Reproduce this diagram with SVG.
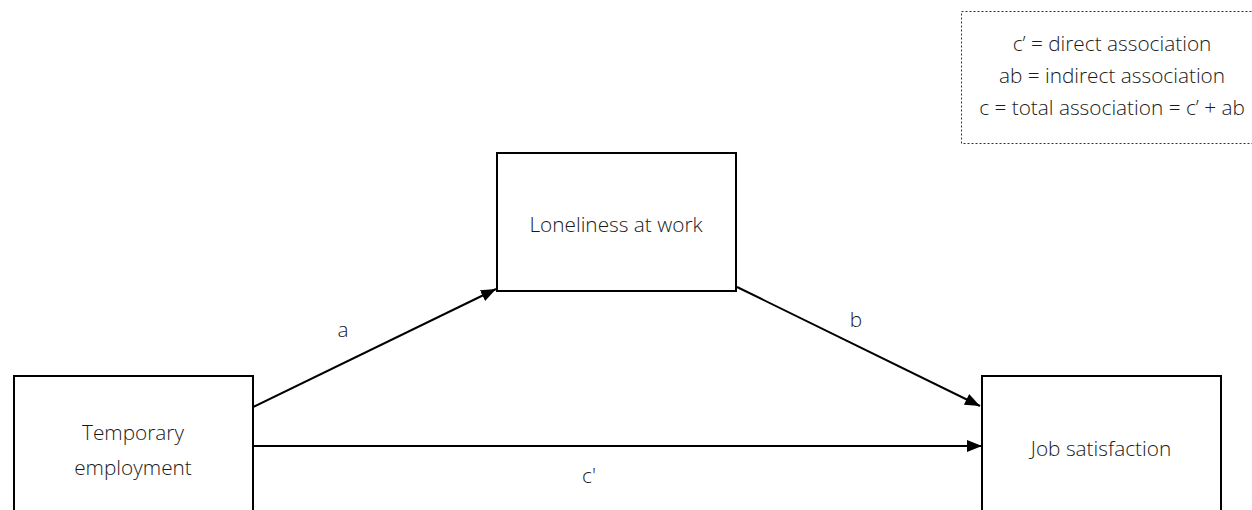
<svg xmlns="http://www.w3.org/2000/svg" width="1252" height="510" viewBox="0 0 1252 510">
<style>
.box{fill:#fff;stroke:#000;stroke-width:2}
.lbl{font-family:"Open Sans","Liberation Sans",sans-serif;font-weight:300;font-size:20.8px;fill:#1a1a1a;text-anchor:middle}
.edge{stroke:#000;stroke-width:2;fill:none;marker-end:url(#ah)}
.leg{fill:none;stroke:#333;stroke-width:1;stroke-dasharray:2 2}
</style>
<defs>
<marker id="ah" markerWidth="16" markerHeight="14" refX="15" refY="6" orient="auto" markerUnits="userSpaceOnUse" viewBox="0 0 16 12">
<path d="M0,0 L15,6 L0,12 Z" fill="#000"/>
</marker>
</defs>
<g id="legend">
<rect class="leg" x="961.500" y="11.500" width="300" height="132"/>
<text class="lbl" x="1112" y="51">c’ = direct association</text>
<text class="lbl" x="1112" y="83">ab = indirect association</text>
<text class="lbl" x="1112" y="115">c = total association = c’ + ab</text>
</g>
<g id="connectors">
<line class="edge" x1="253" y1="407" x2="496" y2="289"/>
<line class="edge" x1="737" y1="287" x2="980" y2="406"/>
<line class="edge" x1="253" y1="446" x2="982" y2="446"/>
<text class="lbl" x="343" y="337">a</text>
<text class="lbl" x="856" y="327">b</text>
<text class="lbl" x="589" y="483">c'</text>
</g>
<g id="node-temp">
<rect class="box" x="14" y="376" width="239" height="150"/>
<text class="lbl" x="133" y="440">Temporary</text>
<text class="lbl" x="133" y="475">employment</text>
</g>
<g id="node-lonely">
<rect class="box" x="497" y="153" width="239" height="138"/>
<text class="lbl" x="616" y="232">Loneliness at work</text>
</g>
<g id="node-job">
<rect class="box" x="982" y="376" width="239" height="150"/>
<text class="lbl" x="1101" y="456">Job satisfaction</text>
</g>
</svg>
